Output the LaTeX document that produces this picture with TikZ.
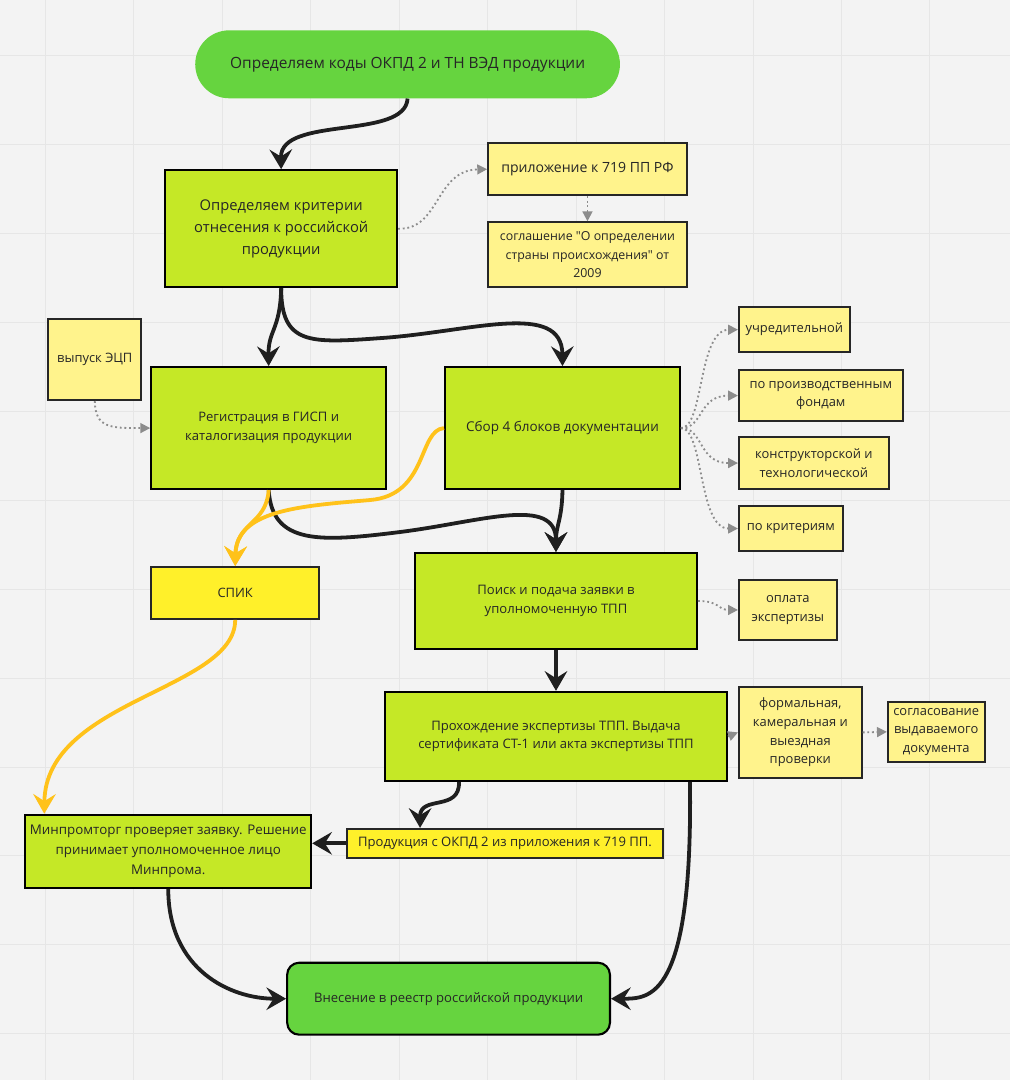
\documentclass[tikz,border=0pt]{standalone}
\usepackage{fontspec}
\setmainfont{Open Sans}[Ligatures=TeXOff]
\usetikzlibrary{arrows.meta,calc}
\definecolor{bgpaper}{HTML}{F3F3F3}
\definecolor{gridln}{HTML}{E6E6E6}
\definecolor{leaf}{HTML}{66D43F}
\definecolor{lime}{HTML}{C5E826}
\definecolor{paleyel}{HTML}{FFF38C}
\definecolor{hotyel}{HTML}{FFF02A}
\definecolor{amber}{HTML}{FFC21A}
\definecolor{hintgray}{HTML}{8C8C8C}
\newcommand{\fs}[2]{\fontsize{#1}{#2}\selectfont}

\begin{document}
\begin{tikzpicture}[x=0.025cm,y=-0.025cm,
  wh/.style 2 args={minimum width=#1*0.025cm,minimum height=#2*0.025cm},
  stage/.style={draw=black,fill=lime,line width=1.5pt,inner sep=0pt,align=center,text=black!85,font=\fs{9.3}{13.4}},
  note/.style={draw=black!85,fill=paleyel,line width=1.3pt,inner sep=0pt,align=center,text=black!85,font=\fs{9.2}{13.4}},
  hot/.style={note,fill=hotyel},
  term/.style={fill=leaf,inner sep=0pt,align=center,text=black!85},
  flow/.style={-{Stealth[length=14pt,width=16pt,inset=5pt]},line width=2.7pt,black!88},
  side/.style={flow,amber},
  hint/.style={-{Triangle[length=7pt,width=7pt]},hintgray,line width=1.3pt,dotted}]

% paper and its grid
\fill[bgpaper] (0,0) rectangle (1010,1080);
\foreach \gx in {45,133.5,...,1010}
    \draw[gridln,line width=0.5pt] (\gx,0) -- (\gx,1080);
\foreach \gy in {55,144,...,1080}
    \draw[gridln,line width=0.5pt] (0,\gy) -- (1010,\gy);
\useasboundingbox (0,0) rectangle (1010,1080);

% main steps
\node[term,wh={425}{68},rounded corners=0.85cm,font=\fs{11}{14}] (top) at (407.5,64) {Определяем коды ОКПД 2 и ТН ВЭД продукции};
\node[stage,wh={232}{117},font=\fs{10.5}{15.6}] (crit) at (281,228.5) {Определяем критерии\\отнесения к российской\\продукции};
\node[stage,wh={235}{122}] (gisp) at (268.5,428) {Регистрация в ГИСП и\\каталогизация продукции};
\node[stage,wh={235}{122},font=\fs{9.6}{13.4}] (sbor) at (562.5,428) {Сбор 4 блоков документации};
\node[hot,wh={168}{52}] (spik) at (235,593) {СПИК};
\node[stage,wh={282}{96}] (poisk) at (556,601) {Поиск и подача заявки в\\уполномоченную ТПП};
\node[stage,wh={342}{89}] (prokh) at (556,736.5) {Прохождение экспертизы ТПП. Выдача\\сертификата СТ-1 или акта экспертизы ТПП};
\node[hot,wh={316}{29},font=\fs{9.3}{13}] (prod) at (505,843.5) {Продукция с ОКПД 2 из приложения к 719 ПП.};
\node[stage,wh={286}{73},font=\fs{9.5}{13.9}] (minprom) at (168,851.5) {Минпромторг проверяет заявку. Решение\\принимает уполномоченное лицо\\Минпрома.};
\node[term,draw=black,line width=1.5pt,wh={323}{72},rounded corners=0.3cm,font=\fs{9.3}{13}] (vnes) at (448.5,999) {Внесение в реестр российской продукции};

% side notes
\node[note,wh={199}{52},font=\fs{10}{13.4}] (app) at (587.5,169) {приложение к 719 ПП РФ};
\node[note,wh={199}{65},font=\fs{8.8}{13.4}] (agree) at (587.5,254.5) {соглашение "О определении\\страны происхождения" от\\2009};
\node[note,wh={93}{81}] (ecp) at (94.5,359.5) {выпуск ЭЦП};
\node[note,wh={111}{45}] (uchr) at (794.5,329.5) {учредительной};
\node[note,wh={164}{51}] (proizv) at (821,395.5) {по производственным\\фондам};
\node[note,wh={150}{52}] (konstr) at (814,463) {конструкторской и\\технологической};
\node[note,wh={104}{45}] (bykrit) at (791,528.5) {по критериям};
\node[note,wh={98}{60}] (oplata) at (788,610) {оплата\\экспертизы};
\node[note,wh={123}{91}] (formal) at (800.5,732.5) {формальная,\\камеральная и\\выездная\\проверки};
\node[note,wh={97}{60}] (soglas) at (936.5,732) {согласование\\выдаваемого\\документа};

% black flow
\draw[flow] (top.south) .. controls (405,140) and (280,115) .. (crit.north);
\draw[flow] (crit.south) .. controls (280,330) and (268,330) .. (gisp.north);
\draw[flow] (crit.south) .. controls (281,345) and (310,343) .. (380,338)
            .. controls (470,332) and (562,300) .. (sbor.north);
\draw[flow] (gisp.south) .. controls (272,545) and (320,542) .. (400,532)
            .. controls (480,522) and (556,495) .. (poisk.north);
\draw[flow] (sbor.south) .. controls (562,520) and (556,525) .. (poisk.north);
\draw[flow] (poisk.south) -- (prokh.north);
\draw[flow] ($(prokh.south west)+(75,0)$) .. controls (460,812) and (420,795) .. ($(prod.north)+(-85,0)$);
\draw[flow] (prod.west) -- (prod.west -| minprom.east);
\draw[flow] ($(prokh.south east)+(-38,0)$) .. controls (693,1000) and (650,999) .. (vnes.east);
\draw[flow] (minprom.south) .. controls (168,970) and (230,999) .. (vnes.west);

% yellow flow to SPIK and on to the ministry
\draw[side] (sbor.west) .. controls (418,430) and (428,495) .. (370,500)
            .. controls (300,506) and (236,510) .. (spik.north);
\draw[side] (gisp.south) .. controls (266,525) and (236,522) .. (spik.north);
\draw[side] (spik.south) .. controls (235,690) and (45,700) .. ($(minprom.north west)+(20,0)$);

% dotted hints
\draw[hint] (crit.east) .. controls (440,230) and (435,170) .. (app.west);
\draw[hint] (app.south) -- (agree.north);
\draw[hint] (ecp.south) .. controls (95,428) and (110,428) .. (gisp.west);
\foreach \blk/\yy in {uchr/330, proizv/395.5, konstr/463, bykrit/528.5}
    \draw[hint] (sbor.east) .. controls (704,428) and (698,\yy) .. (\blk.west);
\draw[hint] (poisk.east) .. controls (720,601) and (718,610) .. (oplata.west);
\draw[hint] (prokh.east) -- (formal.west);
\draw[hint] (formal.east) -- (soglas.west);
\end{tikzpicture}
\end{document}
